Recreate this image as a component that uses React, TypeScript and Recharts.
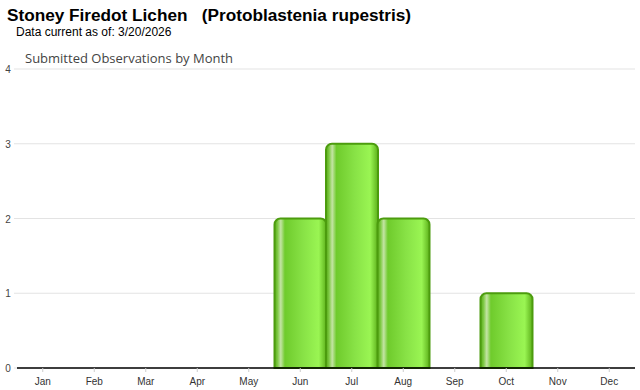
import React from 'react';
import { BarChart, Bar, XAxis, YAxis, CartesianGrid } from 'recharts';

const months = ['Jan', 'Feb', 'Mar', 'Apr', 'May', 'Jun', 'Jul', 'Aug', 'Sep', 'Oct', 'Nov', 'Dec'];
const observations = [0, 0, 0, 0, 0, 2, 3, 2, 0, 1, 0, 0];
const yTicks = [0, 1, 2, 3, 4];

const data = months.map((m, i) => ({ month: m, count: observations[i] }));

const YTick = (props: any) => {
    const { y, payload } = props;
    return (
        <text x={8} y={y} dy={4} textAnchor="middle" fontSize={10} fill="#444" fontFamily="Arial, Liberation Sans, sans-serif">
            {payload.value}
        </text>
    );
};

const App: React.FC = () => {
    return (
        <div style={{ position: 'absolute', left: 0, top: 0, width: 640, height: 390, background: '#fff' }}>
            <div style={{ position: 'absolute', left: 7, top: 5, fontFamily: 'Arial, Liberation Sans, sans-serif', fontWeight: 'bold', fontSize: 17.2, color: '#000', whiteSpace: 'pre' }}>
                {'Stoney Firedot Lichen   (Protoblastenia rupestris)'}
            </div>
            <div style={{ position: 'absolute', left: 16, top: 25, fontFamily: 'Arial, Liberation Sans, sans-serif', fontSize: 12, color: '#000' }}>
                Data current as of: 3/20/2026
            </div>
            <div style={{ position: 'absolute', left: 25, top: 49, fontFamily: '"Open Sans", "DejaVu Sans", sans-serif', fontSize: 13, color: '#444' }}>
                Submitted Observations by Month
            </div>
            <BarChart
                width={640}
                height={390}
                data={data}
                margin={{ top: 69, right: 5, bottom: 0, left: 0 }}
                barCategoryGap={0}
            >
                <defs>
                    <linearGradient id="barGrad" x1="0" y1="0" x2="1" y2="0">
                        <stop offset="0%" stopColor="#55a814" />
                        <stop offset="6%" stopColor="#7fca45" />
                        <stop offset="12%" stopColor="#c4e4a4" />
                        <stop offset="20%" stopColor="#6fcb2c" />
                        <stop offset="55%" stopColor="#88e246" />
                        <stop offset="85%" stopColor="#9af553" />
                        <stop offset="100%" stopColor="#5cb01a" />
                    </linearGradient>
                </defs>
                <CartesianGrid vertical={false} stroke="#e3e3e3" />
                <XAxis
                    dataKey="month"
                    height={22}
                    axisLine={{ stroke: '#000', strokeWidth: 1.5 }}
                    tickLine={{ stroke: '#ccc' }}
                    tickSize={4}
                    tick={{ fontSize: 10, fill: '#333', fontFamily: 'Arial, Liberation Sans, sans-serif' }}
                    tickMargin={6}
                    interval={0}
                />
                <YAxis
                    width={17}
                    domain={[0, 4]}
                    ticks={yTicks}
                    axisLine={false}
                    tickLine={{ stroke: '#e3e3e3' }}
                    tickSize={3}
                    tick={<YTick />}
                />
                <Bar
                    dataKey="count"
                    fill="url(#barGrad)"
                    stroke="#4c9c0e"
                    strokeWidth={2}
                    radius={[6, 6, 0, 0]}
                    isAnimationActive={false}
                />
            </BarChart>
        </div>
    );
};

export default App;
